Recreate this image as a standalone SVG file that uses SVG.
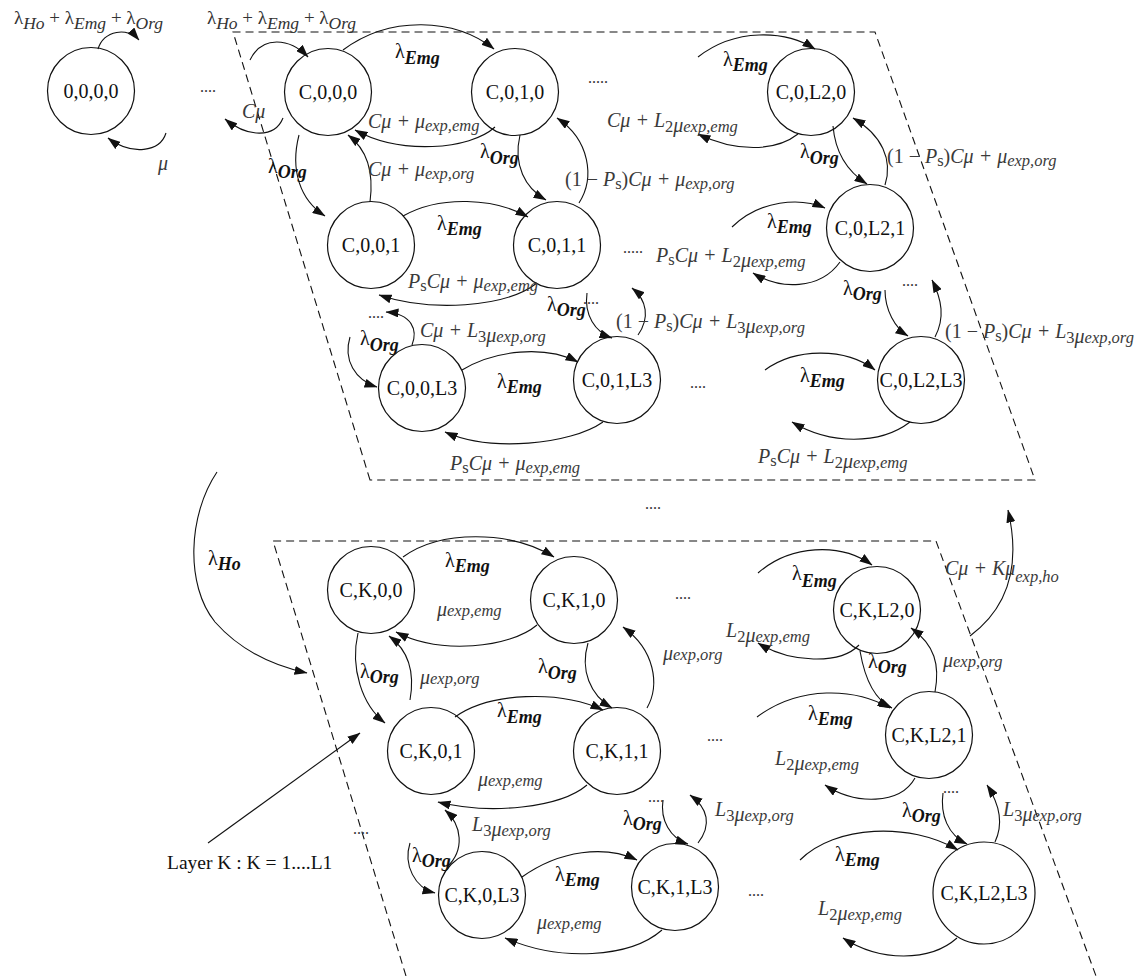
<svg xmlns="http://www.w3.org/2000/svg" width="1141" height="976" viewBox="0 0 1141 976">
<defs>
<marker id="a" markerWidth="13" markerHeight="9" refX="12.5" refY="4.5" orient="auto" markerUnits="userSpaceOnUse"><path d="M0,0 L13,4.5 L0,9 z" fill="#111"/></marker>
<style>
.e{fill:none;stroke:#111;stroke-width:1.1;marker-end:url(#a)}
.c{fill:none;stroke:#111;stroke-width:1.2}
.dash{fill:none;stroke:#111;stroke-width:1.1;stroke-dasharray:8 5}
.n{font-family:"Liberation Serif",serif;font-size:20px;text-anchor:middle;fill:#111}
.m{font-family:"Liberation Serif",serif;font-style:italic;font-size:20px;fill:#3a3a3a}
.s{font-size:16.5px}
.u{font-style:normal}
.l{font-family:"Liberation Serif",serif;font-size:20px;fill:#111}
.b{font-style:italic;font-weight:bold;font-size:18px}
.d{font-family:"Liberation Serif",serif;font-size:16px;fill:#333}
.t{font-family:"Liberation Serif",serif;font-size:19px;fill:#333}
.ts{font-style:italic;font-size:17.5px}
</style>
</defs>
<rect width="1141" height="976" fill="#fff"/>
<g id="layers">
<path class="dash" d="M370,480 L233,32 L875,32 L1035,480 Z"/>
<path class="dash" d="M406,976 L273,541 L936,541 L1096,976"/>
</g>
<g id="connectors">
<path class="e" d="M98,49 C104,30 128,27 139,40"/>
<path class="e" d="M166,133 C160,152 132,156 108,138"/>
<path class="e" d="M250,60 C262,35 290,38 308,57"/>
<path class="e" d="M283,118 C275,138 248,138 225,119"/>
<path class="e" d="M343,50 C390,15 455,18 494,49"/>
<path class="e" d="M495,127 C470,150 400,155 355,130"/>
<path class="e" d="M299,135 C290,170 300,200 325,216"/>
<path class="e" d="M370,202 C374,172 368,150 348,135"/>
<path class="e" d="M520,135 C513,165 525,188 546,200"/>
<path class="e" d="M579,203 C595,178 590,140 557,118"/>
<path class="e" d="M698,57 C735,28 785,30 815,49"/>
<path class="e" d="M798,134 C775,152 735,152 698,134"/>
<path class="e" d="M833,126 C835,150 845,170 867,184"/>
<path class="e" d="M885,185 C893,160 882,135 853,118"/>
<path class="e" d="M403,216 C440,195 495,198 528,217"/>
<path class="e" d="M537,283 C505,308 430,312 379,295"/>
<path class="e" d="M732,227 C760,200 800,197 825,208"/>
<path class="e" d="M840,262 C820,290 780,290 753,273"/>
<path class="e" d="M885,290 C885,310 895,328 908,336"/>
<path class="e" d="M587,293 C584,315 595,332 612,338"/>
<path class="e" d="M638,335 C650,318 647,300 632,288"/>
<path class="e" d="M412,345 C418,330 412,314 386,312"/>
<path class="e" d="M350,337 C343,360 355,380 377,387"/>
<path class="e" d="M462,370 C495,350 545,345 578,362"/>
<path class="e" d="M603,422 C570,445 490,452 445,432"/>
<path class="e" d="M765,370 C795,348 845,347 875,370"/>
<path class="e" d="M910,422 C880,445 830,445 792,422"/>
<path class="e" d="M935,337 C945,318 942,300 932,280"/>
<path class="e" d="M217,472 C188,515 185,585 215,622 C238,648 270,665 307,673"/>
<path class="e" d="M970,636 C1005,610 1022,570 1008,510"/>
<path class="e" d="M403,557 C440,530 510,530 554,557"/>
<path class="e" d="M537,625 C510,648 440,655 396,632"/>
<path class="e" d="M358,633 C350,668 362,705 385,723"/>
<path class="e" d="M410,700 C415,672 408,650 389,636"/>
<path class="e" d="M588,643 C580,670 590,695 612,708"/>
<path class="e" d="M647,708 C660,685 655,650 623,627"/>
<path class="e" d="M455,717 C490,692 560,690 603,710"/>
<path class="e" d="M587,785 C560,808 490,815 438,802"/>
<path class="e" d="M758,573 C790,545 840,542 872,565"/>
<path class="e" d="M859,645 C840,665 790,663 758,643"/>
<path class="e" d="M860,651 C865,680 875,700 892,708"/>
<path class="e" d="M935,692 C940,665 935,645 911,628"/>
<path class="e" d="M757,717 C800,685 855,688 890,708"/>
<path class="e" d="M915,778 C900,805 855,805 825,785"/>
<path class="e" d="M663,800 C660,820 670,838 688,844"/>
<path class="e" d="M698,843 C712,825 708,808 690,795"/>
<path class="e" d="M522,877 C560,850 605,845 637,860"/>
<path class="e" d="M662,930 C630,958 560,962 505,938"/>
<path class="e" d="M410,843 C403,865 415,888 435,893"/>
<path class="e" d="M447,867 C465,850 462,825 445,810"/>
<path class="e" d="M800,860 C835,825 910,822 958,850"/>
<path class="e" d="M957,938 C930,962 880,962 843,938"/>
<path class="e" d="M943,793 C940,815 948,835 967,844"/>
<path class="e" d="M995,842 C1003,825 1000,805 987,785"/>
<path class="e" d="M208,843 L360,733"/>
</g>
<g id="n-0000"><circle class="c" cx="91" cy="91" r="43.5"/><text class="n" x="91" y="98">0,0,0,0</text></g>
<g id="n-C000"><circle class="c" cx="328" cy="92" r="43.5"/><text class="n" x="328" y="99">C,0,0,0</text></g>
<g id="n-C010"><circle class="c" cx="515" cy="92" r="43.5"/><text class="n" x="515" y="99">C,0,1,0</text></g>
<g id="n-C0L20"><circle class="c" cx="811" cy="92" r="43.5"/><text class="n" x="811" y="99">C,0,L2,0</text></g>
<g id="n-C001"><circle class="c" cx="371" cy="245" r="43.5"/><text class="n" x="371" y="252">C,0,0,1</text></g>
<g id="n-C011"><circle class="c" cx="557" cy="245" r="43.5"/><text class="n" x="557" y="252">C,0,1,1</text></g>
<g id="n-C0L21"><circle class="c" cx="870" cy="228" r="43.5"/><text class="n" x="870" y="235">C,0,L2,1</text></g>
<g id="n-C00L3"><circle class="c" cx="422" cy="388" r="43.5"/><text class="n" x="422" y="395">C,0,0,L3</text></g>
<g id="n-C01L3"><circle class="c" cx="617" cy="380" r="43.5"/><text class="n" x="617" y="387">C,0,1,L3</text></g>
<g id="n-C0L2L3"><circle class="c" cx="921" cy="380" r="43.5"/><text class="n" x="921" y="387">C,0,L2,L3</text></g>
<g id="n-CK00"><circle class="c" cx="371" cy="590" r="43.5"/><text class="n" x="371" y="597">C,K,0,0</text></g>
<g id="n-CK10"><circle class="c" cx="574" cy="600" r="43.5"/><text class="n" x="574" y="607">C,K,1,0</text></g>
<g id="n-CKL20"><circle class="c" cx="877" cy="610" r="43.5"/><text class="n" x="877" y="617">C,K,L2,0</text></g>
<g id="n-CK01"><circle class="c" cx="431" cy="751" r="43.5"/><text class="n" x="431" y="758">C,K,0,1</text></g>
<g id="n-CK11"><circle class="c" cx="617" cy="751" r="43.5"/><text class="n" x="617" y="758">C,K,1,1</text></g>
<g id="n-CKL21"><circle class="c" cx="929" cy="735" r="43.5"/><text class="n" x="929" y="742">C,K,L2,1</text></g>
<g id="n-CK0L3"><circle class="c" cx="482" cy="895" r="43.5"/><text class="n" x="482" y="902">C,K,0,L3</text></g>
<g id="n-CK1L3"><circle class="c" cx="675" cy="887" r="43.5"/><text class="n" x="675" y="894">C,K,1,L3</text></g>
<g id="n-CKL2L3"><circle class="c" cx="984" cy="893" r="51"/><text class="n" x="984" y="900">C,K,L2,L3</text></g>
<g id="labels">
<text class="t" x="14" y="24">λ<tspan class="ts" dy="5">Ho</tspan><tspan dy="-5"> + λ</tspan><tspan class="ts" dy="5">Emg</tspan><tspan dy="-5"> + λ</tspan><tspan class="ts" dy="5">Org</tspan></text>
<text class="m" x="158" y="170">μ</text>
<text class="d" x="200" y="92">....</text>
<text class="t" x="207" y="24">λ<tspan class="ts" dy="5">Ho</tspan><tspan dy="-5"> + λ</tspan><tspan class="ts" dy="5">Emg</tspan><tspan dy="-5"> + λ</tspan><tspan class="ts" dy="5">Org</tspan></text>
<text class="m" x="242" y="118">Cμ</text>
<text class="l" x="395" y="58">λ<tspan class="b" dy="6">Emg</tspan></text>
<text class="m" x="368" y="128">Cμ + μ<tspan class="s" dy="3">exp,emg</tspan></text>
<text class="l" x="268" y="173">λ<tspan class="b" dy="5">Org</tspan></text>
<text class="m" x="368" y="176">Cμ + μ<tspan class="s" dy="3">exp,org</tspan></text>
<text class="l" x="480" y="158">λ<tspan class="b" dy="6">Org</tspan></text>
<text class="m" x="565" y="186"><tspan class="u">(1 − </tspan>P<tspan class="s u" dy="3">s</tspan><tspan class="u" dy="-3">)</tspan>Cμ + μ<tspan class="s" dy="3">exp,org</tspan></text>
<text class="d" x="588" y="83">.....</text>
<text class="l" x="723" y="66">λ<tspan class="b" dy="5">Emg</tspan></text>
<text class="m" x="607" y="127">Cμ + L<tspan class="s u" dy="5">2</tspan>μ<tspan class="s">exp,emg</tspan></text>
<text class="l" x="800" y="158">λ<tspan class="b" dy="6">Org</tspan></text>
<text class="m" x="887" y="163"><tspan class="u">(1 − </tspan>P<tspan class="s u" dy="3">s</tspan><tspan class="u" dy="-3">)</tspan>Cμ + μ<tspan class="s" dy="3">exp,org</tspan></text>
<text class="l" x="437" y="230">λ<tspan class="b" dy="5">Emg</tspan></text>
<text class="d" x="623" y="253">.....</text>
<text class="m" x="656" y="262">P<tspan class="s u" dy="3">s</tspan><tspan dy="-3">Cμ + L</tspan><tspan class="s u" dy="5">2</tspan>μ<tspan class="s">exp,emg</tspan></text>
<text class="m" x="408" y="288">P<tspan class="s u" dy="3">s</tspan><tspan dy="-3">Cμ + μ</tspan><tspan class="s" dy="3">exp,emg</tspan></text>
<text class="l" x="767" y="228">λ<tspan class="b" dy="5">Emg</tspan></text>
<text class="l" x="547" y="311">λ<tspan class="b" dy="5">Org</tspan></text>
<text class="d" x="583" y="304">....</text>
<text class="m" x="616" y="328"><tspan class="u">(1 − </tspan>P<tspan class="s u" dy="3">s</tspan><tspan class="u" dy="-3">)</tspan>Cμ + L<tspan class="s u" dy="5">3</tspan>μ<tspan class="s">exp,org</tspan></text>
<text class="d" x="368" y="318">....</text>
<text class="m" x="420" y="337">Cμ + L<tspan class="s u" dy="5">3</tspan>μ<tspan class="s">exp,org</tspan></text>
<text class="l" x="360" y="345">λ<tspan class="b" dy="6">Org</tspan></text>
<text class="l" x="843" y="295">λ<tspan class="b" dy="5">Org</tspan></text>
<text class="d" x="902" y="286">....</text>
<text class="m" x="945" y="338"><tspan class="u">(1 − </tspan>P<tspan class="s u" dy="3">s</tspan><tspan class="u" dy="-3">)</tspan>Cμ + L<tspan class="s u" dy="5">3</tspan>μ<tspan class="s">exp,org</tspan></text>
<text class="l" x="497" y="388">λ<tspan class="b" dy="5">Emg</tspan></text>
<text class="d" x="690" y="388">....</text>
<text class="l" x="800" y="382">λ<tspan class="b" dy="5">Emg</tspan></text>
<text class="m" x="450" y="470">P<tspan class="s u" dy="3">s</tspan><tspan dy="-3">Cμ + μ</tspan><tspan class="s" dy="3">exp,emg</tspan></text>
<text class="m" x="758" y="463">P<tspan class="s u" dy="3">s</tspan><tspan dy="-3">Cμ + L</tspan><tspan class="s u" dy="5">2</tspan>μ<tspan class="s">exp,emg</tspan></text>
<text class="d" x="645" y="509">....</text>
<text class="l" x="208" y="565">λ<tspan class="b" dy="5">Ho</tspan></text>
<text class="m" x="945" y="575">Cμ + Kμ<tspan class="s" dy="7">exp,ho</tspan></text>
<text class="l" x="445" y="567">λ<tspan class="b" dy="5">Emg</tspan></text>
<text class="m" x="437" y="616">μ<tspan class="s">exp,emg</tspan></text>
<text class="l" x="360" y="678">λ<tspan class="b" dy="5">Org</tspan></text>
<text class="m" x="420" y="684">μ<tspan class="s">exp,org</tspan></text>
<text class="l" x="538" y="673">λ<tspan class="b" dy="6">Org</tspan></text>
<text class="m" x="663" y="660">μ<tspan class="s">exp,org</tspan></text>
<text class="l" x="497" y="717">λ<tspan class="b" dy="6">Emg</tspan></text>
<text class="m" x="478" y="786">μ<tspan class="s">exp,emg</tspan></text>
<text class="d" x="675" y="599">....</text>
<text class="l" x="792" y="580">λ<tspan class="b" dy="7">Emg</tspan></text>
<text class="m" x="726" y="637">L<tspan class="s u" dy="5">2</tspan>μ<tspan class="s">exp,emg</tspan></text>
<text class="l" x="868" y="668">λ<tspan class="b" dy="5">Org</tspan></text>
<text class="m" x="943" y="667">μ<tspan class="s">exp,org</tspan></text>
<text class="l" x="808" y="720">λ<tspan class="b" dy="5">Emg</tspan></text>
<text class="d" x="707" y="741">....</text>
<text class="m" x="775" y="765">L<tspan class="s u" dy="5">2</tspan>μ<tspan class="s">exp,emg</tspan></text>
<text class="d" x="648" y="802">....</text>
<text class="l" x="623" y="825">λ<tspan class="b" dy="5">Org</tspan></text>
<text class="m" x="715" y="816">L<tspan class="s u" dy="5">3</tspan>μ<tspan class="s">exp,org</tspan></text>
<text class="d" x="943" y="793">....</text>
<text class="l" x="902" y="817">λ<tspan class="b" dy="5">Org</tspan></text>
<text class="m" x="1003" y="816">L<tspan class="s u" dy="5">3</tspan>μ<tspan class="s">exp,org</tspan></text>
<text class="l" x="835" y="861">λ<tspan class="b" dy="5">Emg</tspan></text>
<text class="m" x="818" y="915">L<tspan class="s u" dy="5">2</tspan>μ<tspan class="s">exp,emg</tspan></text>
<text class="d" x="748" y="896">....</text>
<text class="l" x="555" y="881">λ<tspan class="b" dy="5">Emg</tspan></text>
<text class="m" x="537" y="929">μ<tspan class="s">exp,emg</tspan></text>
<text class="l" x="412" y="862">λ<tspan class="b" dy="5">Org</tspan></text>
<text class="m" x="472" y="831">L<tspan class="s u" dy="5">3</tspan>μ<tspan class="s">exp,org</tspan></text>
<text class="d" x="353" y="834">....</text>
<text x="167" y="869" style="font-family:'Liberation Serif',serif;font-size:19.5px;fill:#111">Layer K : K = 1....L1</text>
</g>
</svg>
